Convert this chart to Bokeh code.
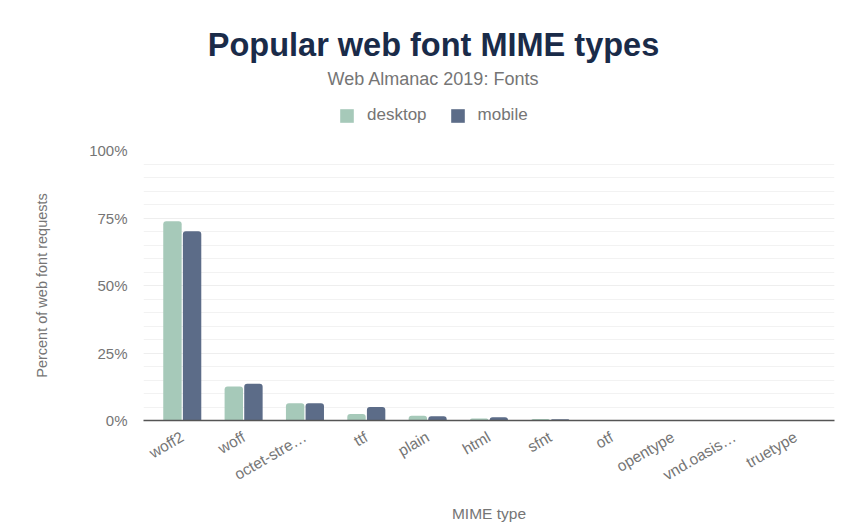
from bokeh.plotting import figure
from bokeh.layouts import column
from bokeh.models import (FactorRange, Range1d, Legend, LegendItem, Label,
                          FixedTicker, CustomJSTickFormatter, ColumnDataSource)
from bokeh.transform import dodge
from bokeh.embed import file_html
from bokeh.resources import INLINE
import math

categories = ["woff2", "woff", "octet-stre\u2026", "ttf", "plain", "html",
              "sfnt", "otf", "opentype", "vnd.oasis\u2026", "truetype"]
desktop = [73.8, 12.6, 6.4, 2.4, 1.8, 0.7, 0.6, 0.1, 0.1, 0.05, 0.05]
mobile = [70.1, 13.6, 6.4, 5.0, 1.6, 1.2, 0.5, 0.1, 0.1, 0.05, 0.05]
y_ticks = [0, 25, 50, 75, 100]
series = ["desktop", "mobile"]

DESK = "#a6c9b9"
MOB = "#5c6c88"
GRAY = "#757575"
FONT = "Helvetica, Liberation Sans, Arial, sans-serif"
W = 852
HH = 140

src = ColumnDataSource(dict(cat=categories, desktop=desktop, mobile=mobile))

# ---------- header: title, subtitle, legend ----------
# (its y range lies far above the data, so its bars only feed the legend)
hdr = figure(width=W, height=HH, output_backend="svg", toolbar_location=None,
             x_range=FactorRange(*categories), y_range=Range1d(1000, 1000 + HH),
             min_border=0, x_axis_type=None, y_axis_type=None)
hdr.outline_line_color = None
hdr.grid.visible = False
hdr.add_layout(Label(x=290, y=HH - 44, x_units="screen", y_units="screen",
                     text="Popular web font MIME types",
                     text_align="center", text_baseline="middle", text_font=FONT,
                     text_font_size="32.5px", text_font_style="bold",
                     text_color="#1a2b49"))
hdr.add_layout(Label(x=290, y=HH - 78, x_units="screen", y_units="screen",
                     text="Web Almanac 2019: Fonts",
                     text_align="center", text_baseline="middle", text_font=FONT,
                     text_font_size="18px", text_color=GRAY))
d1 = hdr.vbar(x="cat", top="desktop", width=0.3, source=src, fill_color=DESK, line_color=None)
d2 = hdr.vbar(x="cat", top="mobile", width=0.3, source=src, fill_color=MOB, line_color=None)
legend = Legend(items=[LegendItem(label=series[0], renderers=[d1]),
                       LegendItem(label=series[1], renderers=[d2])],
                orientation="horizontal", location=(195, HH - 125),
                background_fill_alpha=0, border_line_color=None,
                glyph_width=17, glyph_height=17, label_text_font=FONT,
                label_text_font_size="17px", label_text_color=GRAY,
                spacing=22, padding=0, margin=0, label_standoff=12)
hdr.add_layout(legend)

# ---------- main chart ----------
p = figure(frame_width=691, frame_height=270, output_backend="svg", toolbar_location=None,
           x_range=FactorRange(*categories, range_padding=0.024),
           y_range=Range1d(0, 100),
           min_border_left=143, min_border_right=18,
           min_border_top=10, min_border_bottom=107)
p.outline_line_color = None

p.vbar(x=dodge("cat", -0.16, range=p.x_range), top="desktop", width=0.3,
       source=src, fill_color=DESK, line_color=None, border_radius=(3, 3, 0, 0))
p.vbar(x=dodge("cat", 0.16, range=p.x_range), top="mobile", width=0.3,
       source=src, fill_color=MOB, line_color=None, border_radius=(3, 3, 0, 0))

p.yaxis.ticker = FixedTicker(ticks=y_ticks, minor_ticks=list(range(0, 101, 5)))
p.yaxis.formatter = CustomJSTickFormatter(code="return tick + '%'")
p.yaxis.axis_line_color = None
p.yaxis.major_tick_line_color = None
p.yaxis.minor_tick_line_color = None
p.yaxis.major_label_text_font = FONT
p.yaxis.major_label_text_font_size = "15px"
p.yaxis.major_label_text_color = GRAY
p.yaxis.major_label_standoff = 10
p.yaxis.axis_label = "Percent of web font requests"
p.yaxis.axis_label_text_font = FONT
p.yaxis.axis_label_text_font_size = "14.5px"
p.yaxis.axis_label_text_font_style = "normal"
p.yaxis.axis_label_text_color = GRAY
p.yaxis.axis_label_standoff = 36

p.xaxis.axis_line_color = "#555555"
p.xaxis.axis_line_width = 1.5
p.xaxis.major_tick_line_color = None
p.xaxis.minor_tick_line_color = None
p.xaxis.major_label_orientation = math.pi / 6
p.xaxis.major_label_text_font = FONT
p.xaxis.major_label_text_font_size = "15.5px"
p.xaxis.major_label_text_color = GRAY
p.xaxis.major_label_standoff = 9
p.xaxis.axis_label = "MIME type"
p.xaxis.axis_label_text_font = FONT
p.xaxis.axis_label_text_font_size = "15.5px"
p.xaxis.axis_label_text_font_style = "normal"
p.xaxis.axis_label_text_color = GRAY
p.xaxis.axis_label_standoff = 11

p.xgrid.grid_line_color = None
p.ygrid.grid_line_color = "#eeeeee"
p.ygrid.minor_grid_line_color = "#f2f2f2"

layout = column(hdr, p, spacing=0)
open("out.html", "w").write(file_html(layout, INLINE))
